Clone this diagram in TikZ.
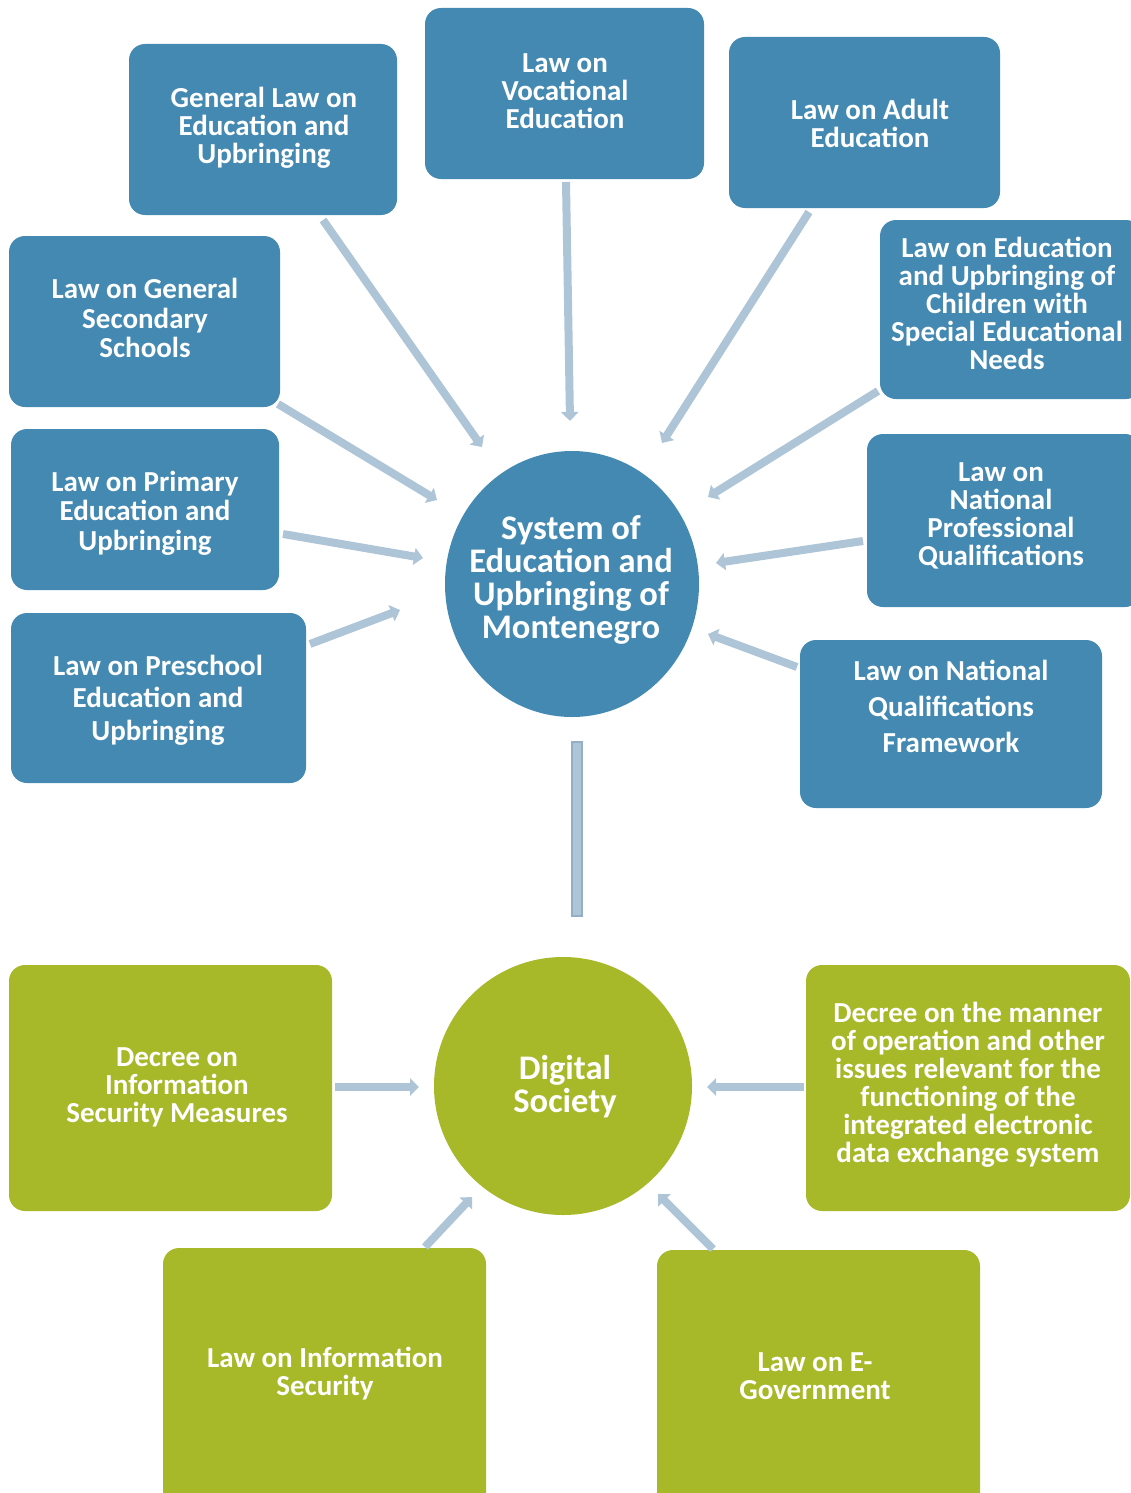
\documentclass[tikz,border=0pt]{standalone}
\usepackage{fontspec}
\setmainfont{Carlito}
\usetikzlibrary{arrows.meta,shapes.geometric}
\definecolor{bblue}{HTML}{4389B2}
\definecolor{ggreen}{HTML}{A7B828}
\definecolor{arr}{HTML}{AEC5D7}
\definecolor{arrb}{HTML}{93AFC8}
\tikzset{
  bx/.style={draw=none,rounded corners=16pt,inner sep=0pt},
  bluebox/.style={bx,fill=bblue},
  greenbox/.style={bx,fill=ggreen},
  txt/.style={text=white,align=center,font=\fontsize{29}{28}\selectfont\bfseries,inner sep=0pt,yshift=-2pt},
  bigtxt/.style={text=white,align=center,font=\fontsize{34.5}{33}\selectfont\bfseries,inner sep=0pt,yshift=-2pt},
  conn/.style={draw=arr,line width=8pt,-{Triangle[width=17pt,length=9pt]}},
}
\begin{document}
\begin{tikzpicture}[x=1pt,y=-1pt]
\useasboundingbox (0,0) rectangle (1131,1493);
% blue boxes
\node[bluebox,minimum width=268,minimum height=171] (b1) at (263,129.5) {};
\node[txt] (t1) at (264,126) {General Law on\\Education and\\Upbringing};
\node[bluebox,minimum width=279,minimum height=171] (b2) at (564.5,93.5) {};
\node[txt] (t2) at (565,89) {Law on\\Vocational\\Education};
\node[bluebox,minimum width=271,minimum height=171] (b3) at (864.5,122.5) {};
\node[txt] (t3) at (870,121) {Law on Adult\\Education};
\node[bluebox,minimum width=262,minimum height=179] (b4) at (1011,309.5) {};
\node[txt] (t4) at (1007,301) {Law on Education\\and Upbringing of\\Children with\\Special Educational\\Needs};
\node[bluebox,minimum width=274,minimum height=173] (b5) at (1004,520.5) {};
\node[txt] (t5) at (1001,514) {Law on\\National\\Professional\\Qualifications};
\node[bluebox,minimum width=302,minimum height=168] (b6) at (951,724) {};
\node[txt,font=\fontsize{29}{36}\selectfont\bfseries] (t6) at (951,704) {Law on National\\Qualifications\\Framework};
\node[bluebox,minimum width=271,minimum height=171] (b7) at (144.5,321.5) {};
\node[txt,font=\fontsize{29}{29.5}\selectfont\bfseries] (t7) at (145,316) {Law on General\\Secondary\\Schools};
\node[bluebox,minimum width=268,minimum height=161] (b8) at (145,509.5) {};
\node[txt,font=\fontsize{29}{29.5}\selectfont\bfseries] (t8) at (145,511) {Law on Primary\\Education and\\Upbringing};
\node[bluebox,minimum width=295,minimum height=170] (b9) at (158.5,698) {};
\node[txt,font=\fontsize{29}{32.5}\selectfont\bfseries] (t9) at (158,698) {Law on Preschool\\Education and\\Upbringing};
% central blue circle
\node[ellipse,fill=bblue,minimum width=254,minimum height=266,inner sep=0pt] (c1) at (572,584) {};
\node[bigtxt] (tc1) at (571,578) {System of\\Education and\\Upbringing of\\Montenegro};
% green boxes
\node[greenbox,minimum width=323,minimum height=246] (g1) at (170.5,1088) {};
\node[txt] (tg1) at (177,1085) {Decree on\\Information\\Security Measures};
\node[greenbox,minimum width=324,minimum height=246] (g2) at (968,1088) {};
\node[txt] (tg2) at (968,1083) {Decree on the manner\\of operation and other\\issues relevant for the\\functioning of the\\integrated electronic\\data exchange system};
\node[greenbox,minimum width=323,minimum height=260] (g3) at (324.5,1378) {};
\node[txt] (tg3) at (325,1372) {Law on Information\\Security};
\node[greenbox,minimum width=323,minimum height=260] (g4) at (818.5,1380) {};
\node[txt] (tg4) at (815,1374) {Law on E-\\Government};
% central green circle
\node[circle,fill=ggreen,minimum size=258,inner sep=0pt] (c2) at (563,1086) {};
\node[bigtxt] (tc2) at (565,1085) {Digital\\Society};
% vertical link
\node[draw=arrb,fill=arr,line width=2pt,minimum width=10,minimum height=174,inner sep=0pt] (vl) at (576.5,829) {};
% connector coordinates
\coordinate (s1) at (323,220); \coordinate (e1) at (482,447);
\coordinate (s2) at (566,182); \coordinate (e2) at (570,421);
\coordinate (s3) at (809,212); \coordinate (e3) at (662,443);
\coordinate (s4) at (878,391); \coordinate (e4) at (708,497);
\coordinate (s5) at (863,541); \coordinate (e5) at (716,563);
\coordinate (s6) at (797,667); \coordinate (e6) at (708,634);
\coordinate (s7) at (278,404); \coordinate (e7) at (437,500);
\coordinate (s8) at (283,534); \coordinate (e8) at (423,558);
\coordinate (s9) at (310,644); \coordinate (e9) at (400,610);
\coordinate (sg1) at (335,1087); \coordinate (eg1) at (419,1087);
\coordinate (sg2) at (804,1087); \coordinate (eg2) at (707,1087);
\coordinate (sg3) at (425,1247); \coordinate (eg3) at (472,1197);
\coordinate (sg4) at (713,1249); \coordinate (eg4) at (658,1194);
\foreach \i in {1,...,9}{\draw[conn] (s\i) -- (e\i);}
\foreach \i in {1,...,4}{\draw[conn] (sg\i) -- (eg\i);}
\end{tikzpicture}
\end{document}
